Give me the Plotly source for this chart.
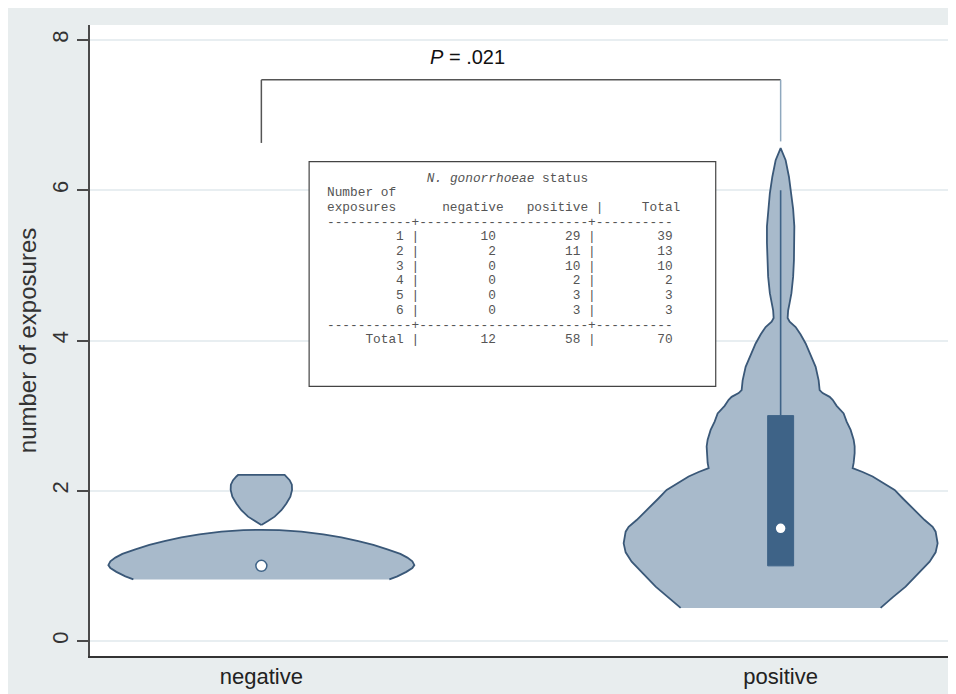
import numpy as np
import plotly.graph_objects as go

# ---------------- data ----------------
categories = ["negative", "positive"]
exposures = [1, 2, 3, 4, 5, 6]
neg_counts = [10, 2, 0, 0, 0, 0]
pos_counts = [29, 11, 10, 2, 3, 3]
p_value = ".021"

# violin density profiles: y level and density (half-width)
neg_lower_y = [0.82, 0.86, 0.92, 0.97, 1.01, 1.06, 1.11, 1.16, 1.22, 1.28, 1.33, 1.38, 1.42, 1.455, 1.475, 1.48]
neg_lower_d = [128, 136, 145, 151, 153, 151, 146, 139, 126, 112, 97, 80, 62, 40, 18, 0]
neg_upper_y = [1.545, 1.60, 1.655, 1.74, 1.83, 1.92, 2.01, 2.08, 2.14, 2.19, 2.21]
neg_upper_d = [0, 7, 13.3, 20, 25, 29, 30.7, 30.5, 28.3, 25, 23.3]
pos_y = [0.44, 0.58, 0.723, 0.89, 1.056, 1.18, 1.30, 1.455, 1.52, 1.61, 1.70, 1.79, 1.90, 2.01, 2.10,
         2.19, 2.25, 2.30, 2.37, 2.50, 2.59, 2.68, 2.81, 2.92, 3.03, 3.13, 3.21, 3.25, 3.30, 3.34, 3.47,
         3.65, 3.80, 3.96, 4.08, 4.18, 4.25, 4.30, 4.40, 4.50, 4.63, 4.85, 5.07, 5.30, 5.52, 5.75, 5.96,
         6.18, 6.40, 6.56]
pos_d = [100, 112, 125, 137, 149, 155, 157, 155, 152, 144, 137, 130, 122, 114, 103,
         92, 82, 72, 73, 74, 74, 73, 70, 66, 63, 56, 52, 49, 42, 39, 38,
         35, 30, 25, 20, 15, 9, 7, 7.5, 9, 10.8, 12.5, 13.3, 13.7, 13.7, 12.5, 10.8,
         8.3, 5, 0]

# ---------------- styling ----------------
DENSITY_SCALE = 1 / 519.3
BOX_HALF = 0.025
VIOLIN_FILL = "#a8bacb"
VIOLIN_LINE = "#3a5878"
BOX_COLOR = "#3e6387"
FIG_BG = "#e8edee"
AXIS_COLOR = "#4a4a4a"
GRID_COLOR = "#e8eef1"

neg_data = np.repeat(exposures, neg_counts)
pos_data = np.repeat(exposures, pos_counts)


def violin_xy(center, ys, ds):
    xs = [center - d * DENSITY_SCALE for d in ds] + [center + d * DENSITY_SCALE for d in reversed(ds)]
    yy = list(ys) + list(reversed(ys))
    return xs, yy


fig = go.Figure()

for center, (ys, ds) in [(0, (neg_lower_y, neg_lower_d)), (0, (neg_upper_y, neg_upper_d)), (1, (pos_y, pos_d))]:
    xs, yy = violin_xy(center, ys, ds)
    fig.add_trace(go.Scatter(x=xs, y=yy, mode="lines", fill="toself", fillcolor=VIOLIN_FILL,
                             line=dict(color=VIOLIN_LINE, width=1.8), hoverinfo="skip", showlegend=False))

# box for positive group (computed from the counts)
q1, med, q3 = (float(v) for v in np.percentile(pos_data, [25, 50, 75]))
iqr = q3 - q1
upper = float(pos_data[pos_data <= q3 + 1.5 * iqr].max())
lower = float(pos_data[pos_data >= q1 - 1.5 * iqr].min())
cx = 1
# whiskers
fig.add_trace(go.Scatter(x=[cx, cx, None, cx, cx], y=[q3, upper, None, q1, lower], mode="lines",
                         line=dict(color=BOX_COLOR, width=1.6), hoverinfo="skip", showlegend=False))
# box
fig.add_trace(go.Scatter(x=[cx - BOX_HALF, cx + BOX_HALF, cx + BOX_HALF, cx - BOX_HALF, cx - BOX_HALF],
                         y=[q1, q1, q3, q3, q1], mode="lines", fill="toself", fillcolor=BOX_COLOR,
                         line=dict(color=BOX_COLOR, width=1), hoverinfo="skip", showlegend=False))

# medians
medians = [float(np.median(neg_data)), float(np.median(pos_data))]
fig.add_trace(go.Scatter(x=[0, 1], y=medians, mode="markers",
                         marker=dict(color="white", size=11, line=dict(color=BOX_COLOR, width=1.5)),
                         showlegend=False, hoverinfo="skip"))

# ---------------- bracket + p-value ----------------
BR_TOP = 7.47
shapes = [
    dict(type="line", xref="x", yref="y", x0=0, x1=1, y0=BR_TOP, y1=BR_TOP, line=dict(color="#555", width=1.5)),
    dict(type="line", xref="x", yref="y", x0=0, x1=0, y0=BR_TOP, y1=6.63, line=dict(color="#555", width=1.5)),
    dict(type="line", xref="x", yref="y", x0=1, x1=1, y0=BR_TOP, y1=6.65, line=dict(color="#8fa8be", width=1.5)),
    # table frame
    dict(type="rect", xref="x", yref="y", x0=0.092, x1=0.875, y0=3.39, y1=6.38,
         line=dict(color="#444", width=1.2), fillcolor="white", layer="above"),
]

annotations = [dict(x=0.396, y=7.77, xref="x", yref="y", text="<i>P</i> = " + p_value, showarrow=False,
                    font=dict(family="Liberation Sans, Arial", size=20, color="#111"))]

# ---------------- table text ----------------
def pad(s):
    return s.replace(" ", "\u00a0")

neg_total = sum(neg_counts)
pos_total = sum(pos_counts)
lines = [
    " " * 13 + "<i>N. gonorrhoeae</i> status",
    "Number of",
    "exposures      negative   positive |     Total",
    "-----------+----------------------+----------",
]
for e, n, p in zip(exposures, neg_counts, pos_counts):
    lines.append(f"{e:>10} |{n:>10}{p:>11} |{n + p:>10}")
lines.append("-----------+----------------------+----------")
lines.append(f"{'Total':>10} |{neg_total:>10}{pos_total:>11} |{neg_total + pos_total:>10}")

TXT_X = 0.1225
TXT_Y0 = 6.163
TXT_STEP = 0.1957
for i, ln in enumerate(lines):
    annotations.append(dict(x=TXT_X, y=TXT_Y0 - i * TXT_STEP, xref="x", yref="y", text=pad(ln),
                            showarrow=False, xanchor="left", yanchor="middle",
                            font=dict(family="Liberation Mono, Courier New, monospace", size=12.8, color="#555")))

fig.update_layout(
    width=956, height=694,
    margin=dict(l=82, r=12, t=17, b=46, autoexpand=False),
    paper_bgcolor=FIG_BG, plot_bgcolor="white",
    shapes=shapes, annotations=annotations,
    font=dict(family="Liberation Sans, Arial", color="#222"),
)
fig.update_xaxes(range=[-0.33, 1.33], tickvals=[0, 1], ticktext=categories, showgrid=False, zeroline=False,
                 automargin=False,
                 showline=True, linecolor="#333", linewidth=2, ticks="", tickfont=dict(size=22, color="#222"),
                 ticklabelstandoff=0)
fig.update_yaxes(range=[-0.2, 8.2], tickvals=[0, 2, 4, 6, 8], showgrid=True, gridcolor=GRID_COLOR, gridwidth=2,
                 automargin=False,
                 zeroline=False, showline=True, linecolor=AXIS_COLOR, linewidth=2, ticks="outside", ticklen=11,
                 tickwidth=1.5, tickcolor=AXIS_COLOR, tickangle=-90, tickfont=dict(size=22, color="#333"),
                 title=dict(text="number of exposures", font=dict(size=24, color="#333"), standoff=5))

fig.write_html("out.html")
